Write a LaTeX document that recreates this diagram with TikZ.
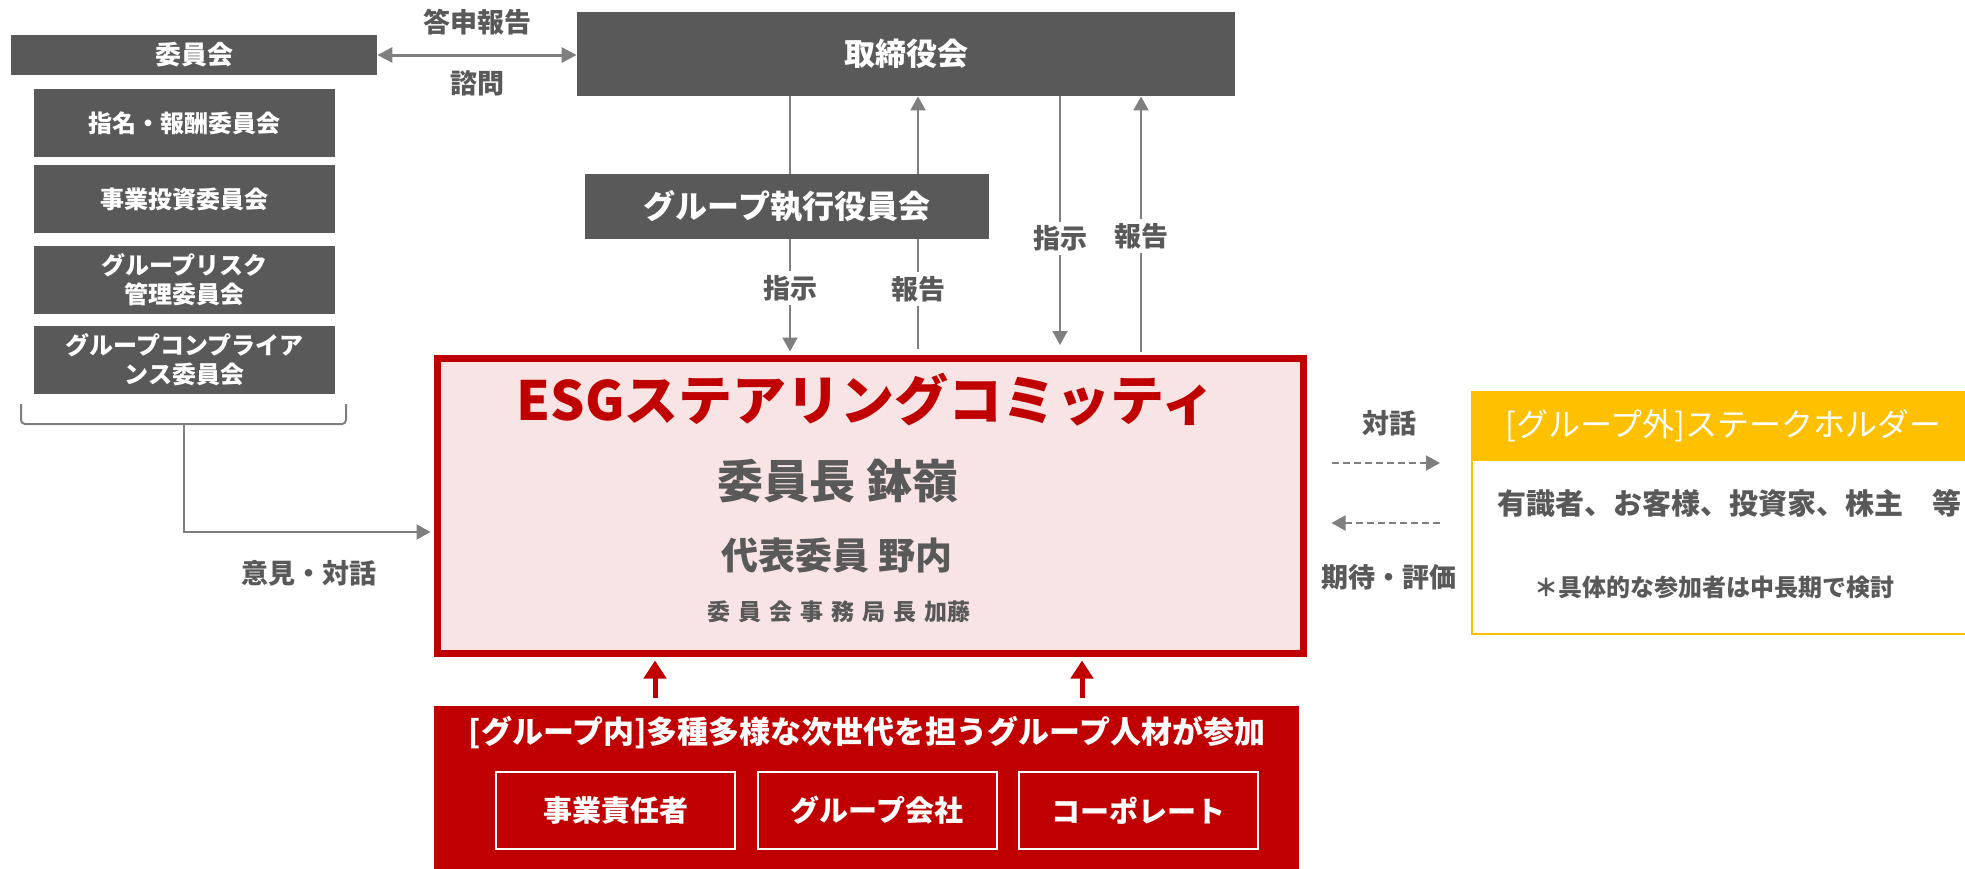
\documentclass[tikz,border=0pt]{standalone}
\usepackage{fontspec}
\setmainfont{Noto Sans CJK JP}
\usetikzlibrary{positioning, arrows.meta}
\definecolor{boxgray}{HTML}{595959}
\definecolor{linegray}{HTML}{7F7F7F}
\definecolor{esgred}{HTML}{C00000}
\definecolor{esgpink}{HTML}{F8E4E4}
\definecolor{shyellow}{HTML}{FFC000}
\newcommand{\fsz}[1]{\bfseries\fontsize{#1}{#1}\selectfont}

\begin{document}
\begin{tikzpicture}[x=0.5pt, y=-0.5pt,
  gbox/.style={fill=boxgray, text=white, inner sep=0pt, align=center},
  cbox/.style={gbox, minimum width=150.5pt, minimum height=34pt, font=\bfseries\fontsize{12}{14.5}\selectfont},
  lbl/.style={text=boxgray, inner sep=1pt, font=\fsz{13.5}},
  onl/.style={lbl, fill=white, inner sep=2pt},
  ln/.style={draw=linegray, line width=1pt},
  arr/.style={ln, -{Triangle[length=7pt, width=7.5pt]}},
  dbl/.style={draw=linegray, line width=1.5pt, {Triangle[length=7.5pt, width=7.5pt]}-{Triangle[length=7.5pt, width=7.5pt]}},
  dsh/.style={arr, dash pattern=on 3.5pt off 2pt},
  redarr/.style={draw=esgred, line width=2.5pt, -{Triangle[length=9pt, width=11pt]}, shorten <=4pt, shorten >=1.75pt},
  subbox/.style={draw=white, line width=1pt, text=white, inner sep=0pt, minimum width=119.5pt, minimum height=38.5pt, font=\fsz{14.5}}
]
\useasboundingbox (0,0) rectangle (1965,868);

% committees
\node[gbox, minimum width=183pt, minimum height=20pt, font=\fsz{13}] (iin) at (194,55) {委員会};
\node[cbox] (nom) at (184.5,123) {指名・報酬委員会};
\node[cbox] (inv) at (184.5,199) {事業投資委員会};
\node[cbox] (risk) at (184.5,280) {グループリスク\\管理委員会};
\node[cbox] (comp) at (184.5,360) {グループコンプライア\\ンス委員会};

% board
\node[gbox, minimum width=329pt, minimum height=42pt, font=\fsz{15.5}] (tori) at (906,54) {取締役会};
\node[gbox, minimum width=202pt, minimum height=32.5pt, font=\fsz{16}] (exe) at (787,206.5) {グループ執行役員会};

% steering committee
\node[draw=esgred, line width=3.5pt, fill=esgpink, inner sep=0pt, minimum width=433pt, minimum height=147.5pt] (esg) at (870.5,506) {};
\node[text=esgred, font=\fsz{27}] (esgt) at (866,400) {ESGステアリングコミッティ};
\node[text=boxgray, font=\fsz{23}] (chair) at (838,481) {委員長 鉢嶺};
\node[text=boxgray, font=\fsz{18.5}] (rep) at (837,555) {代表委員 野内};
\node[text=boxgray, font=\fsz{11.5}] (sec) at (839,612) {{\addfontfeature{LetterSpace=35}委員会事務局長}\hspace{4pt}加藤};

% group members
\node[fill=esgred, inner sep=0pt, minimum width=432.5pt, minimum height=84.5pt] (grp) at (866.5,790.5) {};
\node[text=white, font=\fsz{15.5}] (grpt) at (867,733) {[グループ内]多種多様な次世代を担うグループ人材が参加};
\node[subbox] (biz) at (615.5,810.5) {事業責任者};
\node[subbox] (co) at (877,810.5) {グループ会社};
\node[subbox] (corp) at (1138.5,810.5) {コーポレート};

% stakeholders
\node[draw=shyellow, line width=1pt, inner sep=0pt, minimum width=251.5pt, minimum height=87pt] (stb) at (1723.5,547) {};
\node[fill=shyellow, draw=shyellow, line width=1pt, text=white, inner sep=0pt, minimum width=251.5pt, minimum height=34pt, font=\fontsize{16}{16}\selectfont] (sth) at (1723.5,426) {[グループ外]ステークホルダー};
\node[text=boxgray, font=\fsz{14.5}] (stt) at (1729,503) {有識者、お客様、投資家、株主　等};
\node[text=boxgray, font=\fsz{12}] (stn) at (1714,587) {＊具体的な参加者は中長期で検討};

% helper coordinates
\coordinate (xa) at (790,0);
\coordinate (xb) at (918,0);
\coordinate (xc) at (1060,0);
\coordinate (xd) at (1141,0);
\coordinate (xe) at (655,0);
\coordinate (xf) at (1082,0);
\coordinate (ya) at (0,463);
\coordinate (yb) at (0,523);
\coordinate (yc) at (0,532);
\coordinate (bl) at (21,404);
\coordinate (br) at (346,404);
\coordinate (bm) at (184,424);

\draw[dbl] (iin.east) -- node[lbl, midway, above=8pt] {答申報告} node[lbl, midway, below=6pt] {諮問} (tori.west |- iin.east);

\draw[ln] (tori.south -| xa) -- (exe.north -| xa);
\draw[arr, shorten >=1.75pt] (exe.south -| xa) -- node[onl, pos=0.42] {指示} (esg.north -| xa);
\draw[arr] (exe.north -| xb) -- (tori.south -| xb);
\draw[ln, shorten <=3pt] (esg.north -| xb) -- node[onl, pos=0.57] {報告} (exe.south -| xb);
\draw[arr, shorten >=5pt] (tori.south -| xc) -- node[onl, pos=0.55] {指示} (esg.north -| xc);
\draw[arr, shorten <=1.75pt] (esg.north -| xd) -- node[onl, pos=0.46] {報告} (tori.south -| xd);

\draw[ln, rounded corners=2pt] (bl) -- ++(0,20) -| (br);
\draw[arr, shorten >=1.75pt] (bm) |- node[lbl, pos=0.75, below=12.5pt] {意見・対話} (esg.west |- yc);

\draw[redarr] (grp.north -| xe) -- (esg.south -| xe);
\draw[redarr] (grp.north -| xf) -- (esg.south -| xf);

\draw[dsh, shorten <=12.25pt, shorten >=15.5pt] (esg.east |- ya) -- node[lbl, midway, above=12pt] {対話} (stb.west |- ya);
\draw[dsh, shorten <=15.5pt, shorten >=12.25pt] (stb.west |- yb) -- node[lbl, midway, below=19pt] {期待・評価} (esg.east |- yb);

\end{tikzpicture}
\end{document}
